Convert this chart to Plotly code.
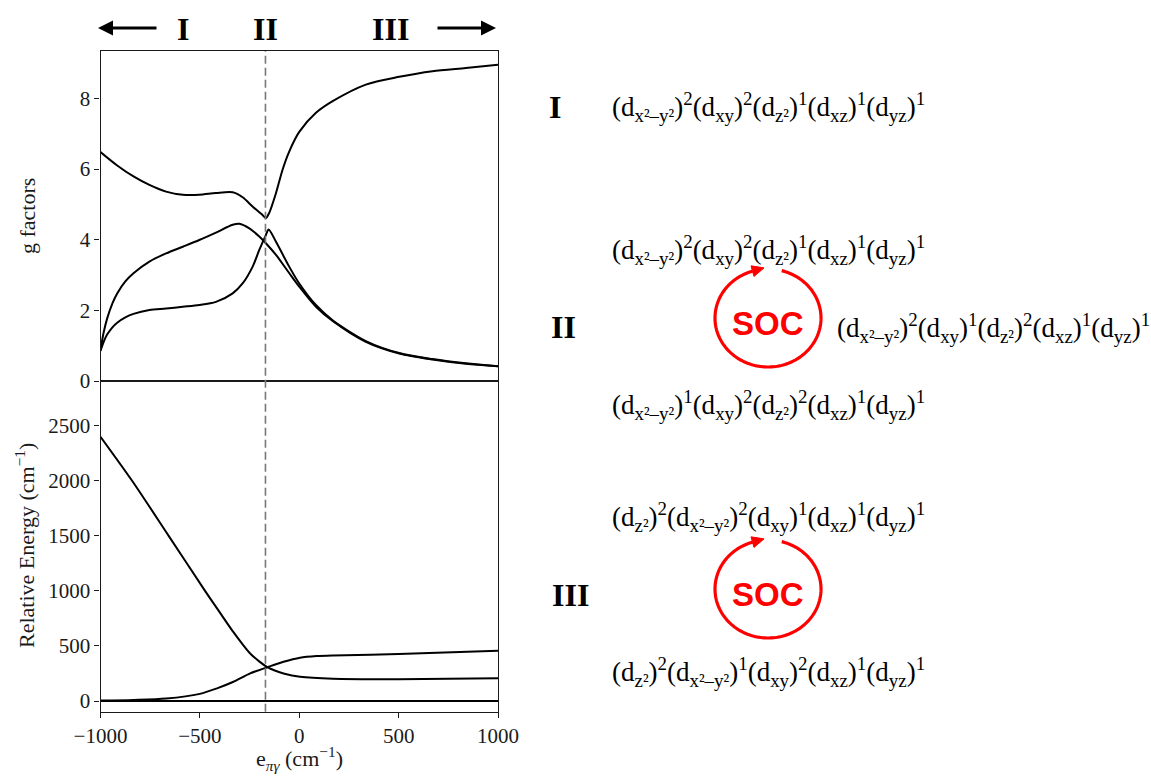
import numpy as np
import plotly.graph_objects as go

# ---------------- data ----------------
# g factors vs e_pi-gamma (cm^-1)
g1_x = [-1000, -916, -834, -754, -670, -586, -503, -419, -335, -285, -235, -185, -168,
        -151, -117, -84, -50, 0, 84, 168, 335, 503, 670, 838, 1000]
g1_y = [6.48, 6.10, 5.79, 5.55, 5.36, 5.27, 5.27, 5.32, 5.34, 5.20, 4.94, 4.70, 4.61,
        4.76, 5.32, 5.98, 6.50, 7.05, 7.59, 7.92, 8.39, 8.61, 8.77, 8.86, 8.95]

g2_x = [-1000, -985, -966, -940, -916, -875, -834, -754, -670, -586, -503, -419, -335,
        -302, -251, -201, -168, -117, -50, 0, 84, 168, 335, 503, 670, 838, 1000]
g2_y = [0.87, 1.35, 1.78, 2.20, 2.48, 2.82, 3.05, 3.38, 3.61, 3.80, 3.99, 4.20, 4.42,
        4.45, 4.32, 4.09, 3.90, 3.57, 3.05, 2.67, 2.10, 1.70, 1.11, 0.78, 0.61, 0.49, 0.42]

g3_x = [-1000, -983, -966, -940, -916, -875, -834, -754, -670, -586, -503, -419, -335,
        -285, -235, -201, -168, -154, -117, -50, 0, 84, 168, 335, 503, 670, 838, 1000]
g3_y = [0.85, 1.12, 1.32, 1.52, 1.65, 1.80, 1.90, 2.01, 2.05, 2.10, 2.15, 2.24, 2.48,
        2.76, 3.23, 3.71, 4.13, 4.29, 3.94, 3.23, 2.76, 2.15, 1.72, 1.13, 0.79, 0.62,
        0.50, 0.42]

# relative energies (cm^-1)
e1_x = [-1000, -841, -657, -474, -400, -331, -285, -247, -200, -163, -120, -79, 4,
        170, 500, 1000]
e1_y = [2400, 2000, 1500, 1000, 805, 625, 515, 432, 358, 311, 275, 250, 220,
        202, 198, 206]

e2_x = [-1000, -834, -670, -500, -414, -331, -247, -163, -79, 4, 88, 170, 500, 1000]
e2_y = [5, 10, 22, 65, 115, 175, 251, 305, 356, 393, 408, 414, 426, 456]

e0_x = [-1000, 1000]
e0_y = [0, 0]

crossing_x = -170

x_ticks = [-1000, -500, 0, 500, 1000]
g_ticks = [0, 2, 4, 6, 8]
e_ticks = [0, 500, 1000, 1500, 2000, 2500]

# electron configurations: (orbital, occupancy)
ORB = {"x2y2": "x²–y²", "xy": "xy", "z2": "z²", "xz": "xz", "yz": "yz"}
conf_I = [("x2y2", 2), ("xy", 2), ("z2", 1), ("xz", 1), ("yz", 1)]
conf_II_top = [("x2y2", 2), ("xy", 2), ("z2", 1), ("xz", 1), ("yz", 1)]
conf_II_right = [("x2y2", 2), ("xy", 1), ("z2", 2), ("xz", 1), ("yz", 1)]
conf_II_bottom = [("x2y2", 1), ("xy", 2), ("z2", 2), ("xz", 1), ("yz", 1)]
conf_III_top = [("z2", 2), ("x2y2", 2), ("xy", 1), ("xz", 1), ("yz", 1)]
conf_III_bottom = [("z2", 2), ("x2y2", 1), ("xy", 2), ("xz", 1), ("yz", 1)]

# ---------------- layout helpers ----------------
W, H = 1151, 776
SERIF = "Liberation Serif"
SANS = "Liberation Sans"
INK = "#1a1a1a"
RED = "#ff0000"


def px(x):
    return x / W


def py(y):
    return 1 - y / H


def conf_text(conf):
    return "".join(f"(d<sub>{ORB[o]}</sub>)<sup>{n}</sup>" for o, n in conf)


X_DOM = [px(100.5), px(498)]
TOP_DOM = [py(381), py(51)]
BOT_DOM = [py(711.7), py(381)]

fig = go.Figure()
line = dict(color="black", width=2, shape="spline", smoothing=0.8)
for xs, ys in [(g1_x, g1_y), (g2_x, g2_y), (g3_x, g3_y)]:
    fig.add_trace(go.Scatter(x=xs, y=ys, mode="lines", line=line,
                             xaxis="x", yaxis="y", showlegend=False, hoverinfo="skip"))
for xs, ys in [(e1_x, e1_y), (e2_x, e2_y), (e0_x, e0_y)]:
    fig.add_trace(go.Scatter(x=xs, y=ys, mode="lines", line=line,
                             xaxis="x2", yaxis="y2", showlegend=False, hoverinfo="skip"))

axis_common = dict(showline=True, mirror=True, linecolor=INK, linewidth=1.3,
                   showgrid=False, zeroline=False, ticks="outside", ticklen=5,
                   tickwidth=1.2, tickcolor=INK, automargin=False,
                   tickfont=dict(family=SERIF, size=21, color=INK))

fig.update_layout(
    width=W, height=H,
    margin=dict(l=0, r=0, t=0, b=0, pad=0, autoexpand=False),
    paper_bgcolor="white", plot_bgcolor="white",
    xaxis=dict(axis_common, domain=X_DOM, range=[-1000, 1000], anchor="y",
               matches="x2", showticklabels=False, ticks=""),
    yaxis=dict(axis_common, domain=TOP_DOM, range=[0, 9.34], anchor="x",
               tickvals=g_ticks),
    xaxis2=dict(axis_common, domain=X_DOM, range=[-1000, 1000], anchor="y2",
                tickvals=x_ticks),
    yaxis2=dict(axis_common, domain=BOT_DOM, range=[-97, 2906], anchor="x2",
                tickvals=e_ticks),
)

# dashed marker of the crossing region, through both panels
fig.add_shape(type="line", xref="x2", yref="paper", x0=crossing_x, x1=crossing_x,
              y0=BOT_DOM[0], y1=TOP_DOM[1],
              line=dict(color="#777777", width=1.6, dash="8px,4px"))

ann = []
# axis titles
ann.append(dict(x=px(299), y=py(758), text="e<sub><i>πγ</i></sub> (cm<sup>−1</sup>)",
                font=dict(family=SERIF, size=22, color=INK)))
ann.append(dict(x=px(27), y=py(216), text="g factors", textangle=-90,
                font=dict(family=SERIF, size=22, color=INK)))
ann.append(dict(x=px(25), y=py(546), text="Relative Energy (cm<sup>−1</sup>)",
                textangle=-90, font=dict(family=SERIF, size=22, color=INK)))

# region labels above the panels
bold32 = dict(family=SERIF, size=32, color="black")
for label, x in [("I", 183), ("II", 265), ("III", 390)]:
    ann.append(dict(x=px(x), y=py(29), text=f"<b>{label}</b>", font=bold32))
ann.append(dict(x=px(98), y=py(28), ax=60, ay=0, text="", showarrow=True,
                arrowhead=2, arrowsize=1, arrowwidth=3, arrowcolor="black"))
ann.append(dict(x=px(496), y=py(28), ax=-60, ay=0, text="", showarrow=True,
                arrowhead=2, arrowsize=1, arrowwidth=3, arrowcolor="black"))

# right-hand panel: roman numerals and configurations
for label, x, y in [("I", 555, 107), ("II", 563, 327), ("III", 570, 595)]:
    ann.append(dict(x=px(x), y=py(y), text=f"<b>{label}</b>", font=bold32))

conf_font = dict(family=SERIF, size=27, color="black")
for conf, x, y in [(conf_I, 610, 107), (conf_II_top, 610, 250),
                   (conf_II_right, 835, 328), (conf_II_bottom, 610, 405),
                   (conf_III_top, 610, 517), (conf_III_bottom, 610, 672)]:
    ann.append(dict(x=px(x), y=py(y), text=conf_text(conf), xanchor="left",
                    font=conf_font))

# SOC cycles
cycles = [(768, 318), (768, 589)]
RX, RY = 53, 49
for cx, cy in cycles:
    ann.append(dict(x=px(cx), y=py(cy + 5), text="<b>SOC</b>",
                    font=dict(family=SANS, size=33, color=RED)))
    th = np.radians(np.linspace(75, -253, 160))
    pts = [(RX * np.cos(t), RY * np.sin(t)) for t in th]
    path = "M " + " L ".join(f"{x:.2f},{y:.2f}" for x, y in pts)
    fig.add_shape(type="path", xref="paper", yref="paper",
                  xsizemode="pixel", ysizemode="pixel",
                  xanchor=px(cx), yanchor=py(cy), path=path,
                  line=dict(color=RED, width=3.2))
    # arrowhead at the end of the arc, along the clockwise tangent
    t_end = th[-1]
    ex, ey = RX * np.cos(t_end), RY * np.sin(t_end)
    tx, ty = RX * np.sin(t_end), -RY * np.cos(t_end)
    n = np.hypot(tx, ty)
    tx, ty = tx / n, ty / n
    nx, ny = -ty, tx
    L, Wd = 12, 5.5
    tip = (ex + tx * L, ey + ty * L)
    b1 = (ex + nx * Wd, ey + ny * Wd)
    b2 = (ex - nx * Wd, ey - ny * Wd)
    tri = f"M {tip[0]:.2f},{tip[1]:.2f} L {b1[0]:.2f},{b1[1]:.2f} L {b2[0]:.2f},{b2[1]:.2f} Z"
    fig.add_shape(type="path", xref="paper", yref="paper",
                  xsizemode="pixel", ysizemode="pixel",
                  xanchor=px(cx), yanchor=py(cy), path=tri,
                  fillcolor=RED, line=dict(color=RED, width=1))

for a in ann:
    a.setdefault("xref", "paper")
    a.setdefault("yref", "paper")
    a.setdefault("showarrow", False)
    a.setdefault("xanchor", "center")
    a.setdefault("yanchor", "middle")
    fig.add_annotation(**a)

fig.write_html("out.html", config={"displayModeBar": False})
